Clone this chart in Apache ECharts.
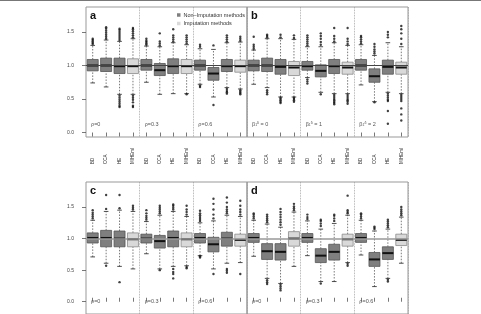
<!DOCTYPE html>
<html>
<head>
<meta charset="utf-8">
<script src="https://cdn.jsdelivr.net/npm/echarts@6/dist/echarts.min.js"></script>
<style>
  html, body { margin: 0; padding: 0; background: #fff; }
  #chart { width: 481px; height: 314px; }
</style>
</head>
<body>
<div id="chart"></div>
<script>
// categories: 3 groups x 4 methods per panel
var methods = ['BD', 'CCA', 'HE', 'MIHEml'];
var categories = methods.concat(methods, methods);
var yTicks = [0, 0.5, 1, 1.5];

// [low whisker, q1, median, q3, high whisker] per box
var statsA = [
  [0.74, 0.92, 1.00, 1.09, 1.30], [0.68, 0.91, 1.00, 1.11, 1.38], [0.57, 0.88, 0.99, 1.11, 1.36], [0.57, 0.88, 0.99, 1.10, 1.40],
  [0.75, 0.93, 1.00, 1.09, 1.29], [0.57, 0.85, 0.93, 1.03, 1.28], [0.58, 0.88, 0.99, 1.10, 1.34], [0.58, 0.88, 0.99, 1.09, 1.31],
  [0.72, 0.93, 1.00, 1.08, 1.25], [0.53, 0.78, 0.88, 0.97, 1.24], [0.67, 0.91, 0.99, 1.09, 1.34], [0.65, 0.90, 0.99, 1.08, 1.35]
];
var statsB = [
  [0.72, 0.92, 1.00, 1.08, 1.23], [0.67, 0.91, 1.00, 1.11, 1.40], [0.53, 0.87, 0.98, 1.09, 1.40], [0.53, 0.85, 0.97, 1.06, 1.39],
  [0.82, 0.93, 0.99, 1.06, 1.28], [0.60, 0.83, 0.92, 1.01, 1.28], [0.58, 0.88, 0.99, 1.09, 1.34], [0.58, 0.87, 0.97, 1.05, 1.30],
  [0.71, 0.93, 1.00, 1.09, 1.31], [0.46, 0.75, 0.84, 0.95, 1.15], [0.60, 0.87, 0.98, 1.08, 1.34], [0.58, 0.87, 0.97, 1.05, 1.28]
];
var statsC = [
  [0.71, 0.93, 1.01, 1.09, 1.29], [0.61, 0.87, 1.01, 1.13, 1.43], [0.56, 0.87, 1.00, 1.12, 1.45], [0.52, 0.87, 0.99, 1.09, 1.43],
  [0.76, 0.93, 1.00, 1.07, 1.27], [0.52, 0.85, 0.96, 1.05, 1.37], [0.56, 0.87, 1.01, 1.12, 1.43], [0.57, 0.87, 0.99, 1.09, 1.35],
  [0.73, 0.93, 1.01, 1.08, 1.25], [0.52, 0.79, 0.91, 1.02, 1.28], [0.61, 0.88, 1.00, 1.10, 1.37], [0.62, 0.88, 0.98, 1.07, 1.35]
];
var statsD = [
  [0.72, 0.94, 1.01, 1.08, 1.29], [0.37, 0.67, 0.80, 0.92, 1.23], [0.29, 0.66, 0.79, 0.92, 1.18], [0.56, 0.88, 1.00, 1.11, 1.42],
  [0.73, 0.94, 1.01, 1.08, 1.28], [0.32, 0.62, 0.73, 0.84, 1.15], [0.32, 0.66, 0.79, 0.91, 1.24], [0.62, 0.88, 0.99, 1.07, 1.37],
  [0.74, 0.94, 1.01, 1.08, 1.29], [0.24, 0.56, 0.67, 0.78, 1.12], [0.37, 0.67, 0.77, 0.87, 1.15], [0.61, 0.89, 0.98, 1.07, 1.34]
];

// outliers per box
var outA = [
  [1.32, 1.34, 1.36, 1.38, 1.40],
  [1.40, 1.43, 1.46, 1.49, 1.52, 1.55, 1.57],
  [1.38, 1.41, 1.44, 1.47, 1.50, 1.53, 1.55, 0.55, 0.52, 0.49, 0.46, 0.43, 0.40, 0.38],
  [1.42, 1.45, 1.48, 1.51, 1.54, 1.56, 0.55, 0.52, 0.49, 0.45, 0.40, 0.38],
  [1.31, 1.33, 1.35, 1.37, 1.40],
  [1.30, 1.33, 1.36, 1.48],
  [1.36, 1.39, 1.42, 1.45, 1.54],
  [1.33, 1.36, 1.39, 1.42, 1.45, 0.57],
  [1.28, 1.31, 0.70, 0.68],
  [1.30, 0.41],
  [1.36, 1.39, 1.42, 1.45, 0.65, 0.62, 0.60, 0.58],
  [1.37, 1.40, 1.43, 0.63, 0.61, 0.59, 0.57]
];
var outB = [
  [1.25, 1.28, 1.31, 1.43],
  [1.42, 1.44, 1.46, 0.63, 0.60, 0.57],
  [1.42, 1.46, 0.52, 0.50, 0.48, 0.46, 0.44],
  [1.41, 1.45, 0.52, 0.50, 0.48, 0.46],
  [1.30, 1.33, 1.36, 1.39, 1.42, 1.45, 0.79, 0.76, 0.73],
  [1.31, 1.35, 1.40, 1.44, 1.48, 0.57],
  [1.36, 1.40, 1.44, 1.56, 0.56, 0.53, 0.50, 0.48, 0.46, 0.44, 0.42],
  [1.32, 1.36, 1.40, 1.56, 0.56, 0.53, 0.50, 0.48, 0.46, 0.43],
  [1.33, 1.36, 1.39, 1.42, 1.44],
  [1.18, 1.21, 1.24, 1.28, 1.32, 0.45],
  [1.42, 1.46, 1.50, 0.58, 0.55, 0.52, 0.49, 0.47, 0.32, 0.13],
  [1.32, 1.40, 1.48, 1.54, 1.59, 0.56, 0.53, 0.50, 0.47, 0.36, 0.27, 0.18]
];
var outC = [
  [1.32, 1.35, 1.38, 1.41, 1.45],
  [1.47, 1.69, 0.57],
  [1.48, 1.69, 0.31],
  [1.46, 1.49, 1.52],
  [1.30, 1.33, 1.36, 1.40, 1.45],
  [1.40, 1.43, 1.46, 1.49, 1.52, 0.50],
  [1.46, 1.49, 1.52, 1.54, 0.52, 0.47, 0.44, 0.37],
  [1.38, 1.42, 1.46, 1.52, 0.55, 0.53],
  [1.28, 1.31, 1.34, 1.37, 1.40, 1.44, 0.72, 0.70],
  [1.32, 1.38, 1.46, 1.55, 1.63, 0.44],
  [1.40, 1.43, 1.46, 1.50, 1.57, 1.65, 0.52, 0.49, 0.46],
  [1.38, 1.42, 1.46, 1.52, 1.60, 0.44]
];
var outD = [
  [1.32, 1.35, 1.38, 1.40],
  [1.26, 1.29, 1.32, 1.35, 1.38, 0.34, 0.31, 0.28],
  [1.22, 1.26, 1.30, 1.34, 1.38, 1.42, 1.47, 0.27, 0.24, 0.21, 0.18],
  [1.45, 1.48, 1.51, 1.55],
  [1.31, 1.34, 1.38],
  [1.20, 1.24, 1.28, 1.30, 0.29],
  [1.28, 1.32, 1.36, 1.38],
  [1.40, 1.42, 1.45, 1.68, 0.60, 0.57],
  [1.32, 1.35, 1.38, 1.40],
  [1.15, 1.17, 1.19],
  [1.18, 1.21, 1.24, 1.27, 1.30, 0.35, 0.32],
  [1.37, 1.40, 1.43, 1.46, 1.50]
];

var groupTextsRho = ['ρ=0', 'ρ=0.3', 'ρ=0.6'];
var groupTextsBeta = ['{b|β}{s|1}{p|δ}{t| = 0}', '{b|β}{s|1}{p|δ}{t| = 1}', '{b|β}{s|1}{p|δ}{t| = 2}'];

var NAME_DARK = 'Non–Imputation methods';
var NAME_LIGHT = 'Imputation methods';

var panels = [
  { stats: statsA, out: outA, left: 86, top: 7, height: 130, max: 1.873, min: -0.067, yLabels: true, xTop: false, refColor: '#444', refWidth: 1, letter: 'a', texts: groupTextsRho },
  { stats: statsB, out: outB, left: 247, top: 7, height: 130, max: 1.873, min: -0.067, yLabels: false, xTop: false, refColor: '#444', refWidth: 1, letter: 'b', texts: groupTextsBeta },
  { stats: statsC, out: outC, left: 86, top: 182, height: 140, max: 1.896, min: -0.194, yLabels: true, xTop: true, refColor: '#999', refWidth: 1.6, letter: 'c', texts: groupTextsRho },
  { stats: statsD, out: outD, left: 247, top: 182, height: 140, max: 1.896, min: -0.194, yLabels: false, xTop: true, refColor: '#999', refWidth: 1.6, letter: 'd', texts: groupTextsRho }
];

// draw one box with dashed whiskers, caps and a thick median
function renderBox(params, api) {
  var x = api.value(0);
  var low = api.coord([x, api.value(1)]);
  var q1 = api.coord([x, api.value(2)]);
  var med = api.coord([x, api.value(3)]);
  var q3 = api.coord([x, api.value(4)]);
  var high = api.coord([x, api.value(5)]);
  var bw = api.size([1, 0])[0] * 0.82;
  var cw = bw * 0.42;
  var cx = q1[0];
  var fill = api.visual('color');
  var light = fill === '#d9d9d9';
  var whisk = { stroke: '#555', lineWidth: 0.8, lineDash: [1.5, 1.5] };
  var cap = { stroke: '#222', lineWidth: 0.8 };
  return {
    type: 'group',
    children: [
      { type: 'line', shape: { x1: cx, y1: q3[1], x2: cx, y2: high[1] }, style: whisk },
      { type: 'line', shape: { x1: cx, y1: low[1], x2: cx, y2: q1[1] }, style: whisk },
      { type: 'line', shape: { x1: cx - cw / 2, y1: high[1], x2: cx + cw / 2, y2: high[1] }, style: cap },
      { type: 'line', shape: { x1: cx - cw / 2, y1: low[1], x2: cx + cw / 2, y2: low[1] }, style: cap },
      { type: 'rect', shape: { x: cx - bw / 2, y: q3[1], width: bw, height: q1[1] - q3[1] },
        style: { fill: fill, stroke: light ? '#8a8a8a' : '#555', lineWidth: 0.8 } },
      { type: 'line', shape: { x1: cx - bw / 2, y1: med[1], x2: cx + bw / 2, y2: med[1] }, style: { stroke: '#111', lineWidth: 2 } }
    ]
  };
}

var grids = [], xAxes = [], yAxes = [], series = [], titles = [], graphics = [];

graphics.push({ type: 'rect', shape: { x: 0, y: 0, width: 481, height: 1 }, style: { fill: '#777' } });

panels.forEach(function (p, k) {
  grids.push({ left: p.left, top: p.top, width: 161, height: p.height, show: true, borderColor: '#999', borderWidth: 1, backgroundColor: 'transparent' });
  xAxes.push({
    type: 'category', gridIndex: k, data: categories, position: p.xTop ? 'top' : 'bottom',
    axisLine: { show: false },
    axisTick: { show: true, alignWithLabel: true, length: 4, lineStyle: { color: '#555', width: 0.8 } },
    axisLabel: { show: p.xTop, rotate: 90, fontSize: 4.5, color: '#333', margin: 18, fontFamily: 'Liberation Sans' },
    splitLine: {
      show: true,
      interval: function (i) { return i === 4 || i === 8; },
      lineStyle: { type: 'dotted', color: '#999', width: 0.8 }
    }
  });
  yAxes.push({
    type: 'value', gridIndex: k, min: p.min, max: p.max,
    axisLine: { show: false },
    axisTick: { show: p.yLabels, length: 4, customValues: yTicks, lineStyle: { color: '#555', width: 0.8 } },
    axisLabel: { show: p.yLabels, customValues: yTicks, fontSize: 5, color: '#444', margin: 12, fontFamily: 'Liberation Sans',
      formatter: function (v) { return v.toFixed(1); } },
    splitLine: { show: false }
  });

  var dark = [], light = [], pts = [];
  p.stats.forEach(function (s, i) {
    var row = [i].concat(s);
    if (i % 4 === 3) light.push(row); else dark.push(row);
    p.out[i].forEach(function (v) { pts.push([i, v]); });
  });

  series.push({
    name: NAME_DARK, type: 'custom', xAxisIndex: k, yAxisIndex: k, renderItem: renderBox,
    itemStyle: { color: '#7f7f7f' }, encode: { x: 0, y: [1, 2, 3, 4, 5] }, data: dark
  });
  series.push({
    name: NAME_LIGHT, type: 'custom', xAxisIndex: k, yAxisIndex: k, renderItem: renderBox,
    itemStyle: { color: '#d9d9d9' }, encode: { x: 0, y: [1, 2, 3, 4, 5] }, data: light
  });
  series.push({
    name: 'outliers', type: 'scatter', xAxisIndex: k, yAxisIndex: k, symbolSize: 2.4, clip: false,
    itemStyle: { color: '#111' }, data: pts,
    markLine: {
      silent: true, symbol: 'none', label: { show: false },
      lineStyle: { color: p.refColor, width: p.refWidth, type: 'solid' },
      data: [{ yAxis: 1 }]
    }
  });

  titles.push({ text: p.letter, left: p.left + 4, top: p.top + 3, padding: 0,
    textStyle: { fontSize: 11, fontWeight: 'bold', color: '#111', fontFamily: 'Liberation Sans' } });

  // group annotations near the bottom of each group
  var gw = 161 / 3;
  var ty = p.top + (p.xTop ? 116 : 114);
  p.texts.forEach(function (t, g) {
    graphics.push({
      type: 'text', left: p.left + g * gw + 5, top: ty,
      style: {
        text: t, fill: '#555', font: '5.5px Liberation Sans',
        rich: {
          b: { fontSize: 5.5, fill: '#555' },
          s: { fontSize: 3.5, fill: '#555', verticalAlign: 'bottom' },
          p: { fontSize: 3.5, fill: '#555', verticalAlign: 'top' },
          t: { fontSize: 5.5, fill: '#555' }
        }
      }
    });
  });
});

var chart = echarts.init(document.getElementById('chart'));
chart.setOption({
  animation: false,
  backgroundColor: '#fff',
  title: titles,
  legend: {
    data: [NAME_DARK, NAME_LIGHT], orient: 'vertical', left: 177, top: 12, padding: 0,
    icon: 'rect', itemWidth: 3.5, itemHeight: 3.5, itemGap: 2.5,
    textStyle: { fontSize: 5.5, color: '#333', fontFamily: 'Liberation Sans', padding: [0, 0, 0, -2] }
  },
  grid: grids,
  xAxis: xAxes,
  yAxis: yAxes,
  graphic: graphics,
  series: series
});
</script>
</body>
</html>
